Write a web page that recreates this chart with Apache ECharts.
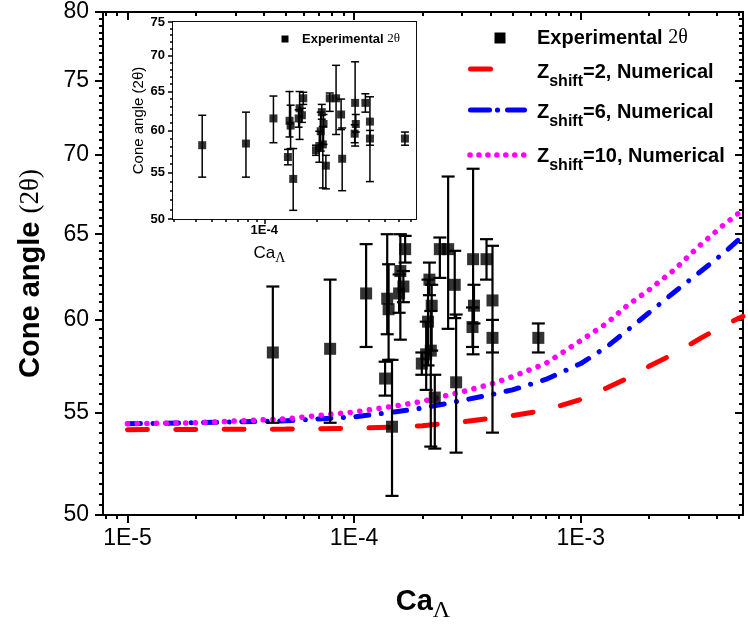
<!DOCTYPE html>
<html><head><meta charset="utf-8">
<script src="https://cdn.jsdelivr.net/npm/echarts@6/dist/echarts.min.js"></script>
<style>html,body{margin:0;padding:0;background:#fff}#c{width:748px;height:628px}</style>
</head><body><div id="c"></div>
<script>
// ---- Experimental data (Ca_Lambda, cone angle, error low, error high) ----
const expCa    = [4.38e-5, 7.84e-5, 1.13e-4, 1.37e-4, 1.40e-4, 1.42e-4, 1.47e-4, 1.58e-4, 1.60e-4, 1.65e-4, 1.68e-4, 1.99e-4, 2.08e-4, 2.12e-4, 2.15e-4, 2.20e-4, 2.18e-4, 2.27e-4, 2.39e-4, 2.60e-4, 2.78e-4, 2.82e-4, 3.35e-4, 3.38e-4, 3.33e-4, 3.84e-4, 4.08e-4, 4.08e-4, 6.50e-4];
const expAngle = [58.2, 58.4, 61.5, 56.8, 61.2, 60.6, 54.3, 61.5, 62.8, 61.9, 64.1, 57.6, 58.1, 59.9, 62.3, 60.8, 58.3, 55.8, 64.1, 64.1, 62.0, 56.6, 63.5, 60.8, 59.6, 63.5, 61.1, 59.0, 59.0];
const expLow   = [54.5, 54.5, 58.5, 55.9, 59.2, 57.8, 50.9, 60.4, 58.9, 61.0, 63.3, 57.0, 56.2, 57.5, 61.4, 58.3, 53.3, 53.2, 62.4, 59.5, 60.1, 53.0, 58.1, 59.8, 58.5, 62.3, 58.2, 54.0, 58.2];
const expHigh  = [61.9, 62.3, 64.4, 57.7, 65.0, 63.2, 57.8, 62.6, 65.0, 62.8, 64.9, 58.2, 59.9, 62.3, 63.3, 62.0, 60.5, 57.0, 64.8, 68.6, 64.0, 60.3, 69.1, 62.0, 60.7, 64.7, 64.3, 60.0, 59.8];

// ---- Numerical curves ----
const curveCa  = [1e-5, 2e-5, 5e-5, 1e-4, 1.5e-4, 2e-4, 3e-4, 4e-4, 5e-4, 7e-4, 1e-3, 1.3e-3, 1.6e-3, 2e-3, 2.6e-3, 3.4e-3, 4.3e-3, 5.2e-3];
const zshift2  = [54.15, 54.16, 54.18, 54.22, 54.28, 54.35, 54.55, 54.72, 54.87, 55.15, 55.7, 56.3, 56.8, 57.45, 58.15, 59.0, 59.7, 60.2];
const zshift6  = [54.45, 54.5, 54.6, 54.8, 55.05, 55.25, 55.65, 55.95, 56.2, 56.75, 57.6, 58.5, 59.4, 60.4, 61.6, 62.8, 63.9, 64.9];
const zshift10 = [54.45, 54.5, 54.7, 55.05, 55.35, 55.6, 56.1, 56.5, 56.9, 57.6, 58.85, 59.8, 60.8, 61.7, 62.9, 64.4, 65.6, 66.5];

// ---- Tick values ----
const xMajorTicks = [1e-5, 1e-4, 1e-3];
const xMinorTicks = [8e-6, 9e-6, 2e-5, 3e-5, 4e-5, 5e-5, 6e-5, 7e-5, 8e-5, 9e-5, 2e-4, 3e-4, 4e-4, 5e-4, 6e-4, 7e-4, 8e-4, 9e-4, 2e-3, 3e-3, 4e-3, 5e-3];
const yMajorTicks = [50, 55, 60, 65, 70, 75, 80];
const yMinorTicks = [50.5,51,51.5,52,52.5,53,53.5,54,54.5,55.5,56,56.5,57,57.5,58,58.5,59,59.5,60.5,61,61.5,62,62.5,63,63.5,64,64.5,65.5,66,66.5,67,67.5,68,68.5,69,69.5,70.5,71,71.5,72,72.5,73,73.5,74,74.5,75.5,76,76.5,77,77.5,78,78.5,79,79.5];
const insetXMajorTicks = [1e-4];
const insetXMinorTicks = [3e-5, 4e-5, 5e-5, 6e-5, 7e-5, 8e-5, 9e-5, 2e-4, 3e-4, 4e-4, 5e-4, 6e-4, 7e-4];
const insetYMajorTicks = [50, 55, 60, 65, 70, 75];
const insetYMinorTicks = [51,52,53,54,56,57,58,59,61,62,63,64,66,67,68,69,71,72,73,74];

const SANS = '"Liberation Sans", Arial, sans-serif';
const SERIF = '"Liberation Serif", "Times New Roman", serif';

const xFmt = v => '1E' + Math.round(Math.log10(v));
const yFmt = v => String(Math.round(v));

function ax(o) {
  return {
    type: 'log', logBase: 10, gridIndex: o.grid, position: o.pos, min: o.min, max: o.max,
    axisLine: {show: true, onZero: false, lineStyle: {color: '#000', width: o.lw}},
    axisTick: {show: true, inside: !!o.inside, length: o.len, customValues: o.ticks, lineStyle: {color: '#000', width: o.lw}},
    axisLabel: o.labels ? Object.assign({show: true, customValues: o.labels, color: '#000', fontFamily: SANS}, o.labelStyle) : {show: false},
    splitLine: {show: false}, minorTick: {show: false}, minorSplitLine: {show: false},
    name: o.name || '', nameLocation: 'middle', nameGap: o.nameGap || 0, nameRotate: o.nameRotate,
    nameTextStyle: o.nameStyle || {}, silent: true
  };
}

const MX = [7.8e-6, 5.2e-3], MY = [50, 80];
const IX = [2.97e-5, 7.53e-4], IY = [50, 75];

const xAxes = [
  ax({grid:0, pos:'bottom', min:MX[0], max:MX[1], ticks:xMajorTicks, len:8, lw:2, labels:xMajorTicks,
      labelStyle:{fontSize:23, margin:12, formatter:xFmt},
      name:'{b|Ca}{s|Λ}', nameGap:66,
      nameStyle:{rich:{b:{fontSize:29, fontWeight:'bold', fontFamily:SANS, color:'#000'},
                       s:{fontSize:24, fontFamily:SERIF, color:'#000', padding:[18,0,0,0]}}}}),
  ax({grid:0, pos:'bottom', min:MX[0], max:MX[1], ticks:xMinorTicks, len:4, lw:2}),
  ax({grid:0, pos:'top', min:MX[0], max:MX[1], ticks:xMajorTicks, len:8, lw:2, inside:true}),
  ax({grid:0, pos:'top', min:MX[0], max:MX[1], ticks:xMinorTicks, len:4, lw:2, inside:true}),
  ax({grid:1, pos:'bottom', min:IX[0], max:IX[1], ticks:insetXMajorTicks, len:5, lw:1.5, labels:insetXMajorTicks,
      labelStyle:{fontSize:13, fontWeight:'bold', margin:5, formatter:xFmt},
      name:'{r|Ca}{s|Λ}', nameGap:22,
      nameStyle:{padding:[0, 50, 0, 0], rich:{r:{fontSize:17, fontFamily:SANS, color:'#000'},
                       s:{fontSize:14, fontFamily:SERIF, color:'#000', padding:[10,0,0,0]}}}}),
  ax({grid:1, pos:'bottom', min:IX[0], max:IX[1], ticks:insetXMinorTicks, len:3, lw:1.5}),
  ax({grid:1, pos:'top', min:IX[0], max:IX[1], ticks:insetXMajorTicks, len:5, lw:1.5, inside:true}),
  ax({grid:1, pos:'top', min:IX[0], max:IX[1], ticks:insetXMinorTicks, len:3, lw:1.5, inside:true})
];
const yAxes = [
  ax({grid:0, pos:'left', min:MY[0], max:MY[1], ticks:yMajorTicks, len:8, lw:2, labels:yMajorTicks,
      labelStyle:{fontSize:23, margin:14, formatter:yFmt},
      name:'{b|Cone angle }{r|(2θ)}', nameGap:58, nameRotate:90,
      nameStyle:{padding:[0, 20, 0, 0], rich:{b:{fontSize:29, fontWeight:'bold', fontFamily:SANS, color:'#000'},
                       r:{fontSize:27, fontFamily:SERIF, color:'#000'}}}}),
  ax({grid:0, pos:'left', min:MY[0], max:MY[1], ticks:yMinorTicks, len:4, lw:2}),
  ax({grid:0, pos:'right', min:MY[0], max:MY[1], ticks:yMajorTicks, len:8, lw:2, inside:true}),
  ax({grid:0, pos:'right', min:MY[0], max:MY[1], ticks:yMinorTicks, len:4, lw:2, inside:true}),
  ax({grid:1, pos:'left', min:IY[0], max:IY[1], ticks:insetYMajorTicks, len:5, lw:1.5, labels:insetYMajorTicks,
      labelStyle:{fontSize:13, fontWeight:'bold', margin:8, formatter:yFmt},
      name:'Cone angle (2θ)', nameGap:26, nameRotate:90,
      nameStyle:{fontSize:15, fontFamily:SANS, color:'#000'}}),
  ax({grid:1, pos:'left', min:IY[0], max:IY[1], ticks:insetYMinorTicks, len:3, lw:1.5}),
  ax({grid:1, pos:'right', min:IY[0], max:IY[1], ticks:insetYMajorTicks, len:5, lw:1.5, inside:true}),
  ax({grid:1, pos:'right', min:IY[0], max:IY[1], ticks:insetYMinorTicks, len:3, lw:1.5, inside:true})
];

function errRender(capW, lw) {
  return function (params, api) {
    const x = api.value(0), lo = api.value(1), hi = api.value(2);
    const p1 = api.coord([x, lo]), p2 = api.coord([x, hi]);
    const st = {stroke: '#000', lineWidth: lw, fill: null};
    return {type: 'group', children: [
      {type: 'line', shape: {x1: p1[0], y1: p1[1], x2: p2[0], y2: p2[1]}, style: st},
      {type: 'line', shape: {x1: p1[0] - capW / 2, y1: p1[1], x2: p1[0] + capW / 2, y2: p1[1]}, style: st},
      {type: 'line', shape: {x1: p2[0] - capW / 2, y1: p2[1], x2: p2[0] + capW / 2, y2: p2[1]}, style: st}
    ]};
  };
}

const errData = expCa.map((c, i) => [c, expLow[i], expHigh[i]]);
const ptData = expCa.map((c, i) => [c, expAngle[i]]);
const curve = arr => curveCa.map((c, i) => [c, arr[i]]);

const richLegend = (fs, sfs, shift) => ({
  b: {fontSize: fs, fontWeight: 'bold', fontFamily: SANS, fill: '#000'},
  s: {fontSize: sfs, fontWeight: 'bold', fontFamily: SANS, fill: '#000', padding: [shift, 0, 0, 0]},
  g: {fontSize: fs, fontFamily: SERIF, fill: '#000'}
});

const option = {
  animation: false,
  backgroundColor: '#fff',
  grid: [
    {left: 103, top: 12, width: 640, height: 510, containLabel: false},
    {left: 173, top: 22, width: 243, height: 197, show: true, backgroundColor: '#fff', borderWidth: 0, z: 5}
  ],
  xAxis: xAxes,
  yAxis: yAxes,
  series: [
    {type: 'line', name: 'Zshift=2', xAxisIndex: 0, yAxisIndex: 0, data: curve(zshift2), symbol: 'none', z: 2,
     lineStyle: {color: '#ff0000', width: 5, type: [20, 28.3], cap: 'round'}},
    {type: 'line', name: 'Zshift=6', xAxisIndex: 0, yAxisIndex: 0, data: curve(zshift6), symbol: 'none', z: 2,
     lineStyle: {color: '#0000ff', width: 5, type: [13, 12.5, 0.1, 12.5], cap: 'round'}},
    {type: 'line', name: 'Zshift=10', xAxisIndex: 0, yAxisIndex: 0, data: curve(zshift10), symbol: 'none', z: 2,
     lineStyle: {color: '#ff00ff', width: 5.5, type: [0.1, 9.6], cap: 'round'}},
    {type: 'custom', name: 'err', xAxisIndex: 0, yAxisIndex: 0, data: errData, renderItem: errRender(13, 2.2), z: 3, silent: true},
    {type: 'scatter', name: 'Experimental', xAxisIndex: 0, yAxisIndex: 0, data: ptData, symbol: 'rect', symbolSize: 12,
     itemStyle: {color: '#000'}, z: 4},
    {type: 'custom', name: 'errInset', xAxisIndex: 4, yAxisIndex: 4, data: errData, renderItem: errRender(8, 1.5), z: 6, silent: true},
    {type: 'scatter', name: 'ExperimentalInset', xAxisIndex: 4, yAxisIndex: 4, data: ptData, symbol: 'rect', symbolSize: 8,
     itemStyle: {color: '#000'}, z: 7}
  ],
  graphic: [
    // main legend
    {type: 'rect', z: 100, shape: {x: 494.5, y: 32.5, width: 11, height: 11}, style: {fill: '#000'}},
    {type: 'text', z: 100, x: 537, y: 38, style: {text: '{b|Experimental }{g|2θ}', rich: richLegend(20, 16, 20), verticalAlign: 'middle'}},
    {type: 'line', z: 100, shape: {x1: 470.5, y1: 69, x2: 490.5, y2: 69}, style: {stroke: '#ff0000', lineWidth: 5, lineCap: 'round'}},
    {type: 'text', z: 100, x: 537, y: 72, style: {text: '{b|Z}{s|shift}{b|=2, Numerical}', rich: richLegend(20, 16, 20), verticalAlign: 'middle'}},
    {type: 'line', z: 100, shape: {x1: 470.5, y1: 110, x2: 489.5, y2: 110}, style: {stroke: '#0000ff', lineWidth: 5, lineCap: 'round'}},
    {type: 'circle', z: 100, shape: {cx: 497.5, cy: 110, r: 2.6}, style: {fill: '#0000ff'}},
    {type: 'line', z: 100, shape: {x1: 507.5, y1: 110, x2: 524.5, y2: 110}, style: {stroke: '#0000ff', lineWidth: 5, lineCap: 'round'}},
    {type: 'text', z: 100, x: 537, y: 112, style: {text: '{b|Z}{s|shift}{b|=6, Numerical}', rich: richLegend(20, 16, 20), verticalAlign: 'middle'}},
    {type: 'line', z: 100, shape: {x1: 470, y1: 155, x2: 532, y2: 155}, style: {stroke: '#ff00ff', lineWidth: 5.5, lineCap: 'round', lineDash: [0.1, 8.85]}},
    {type: 'text', z: 100, x: 537, y: 156, style: {text: '{b|Z}{s|shift}{b|=10, Numerical}', rich: richLegend(20, 16, 20), verticalAlign: 'middle'}},
    // inset legend
    {type: 'rect', z: 100, shape: {x: 281.5, y: 35.5, width: 7, height: 7}, style: {fill: '#000'}},
    {type: 'text', z: 100, x: 302, y: 39, style: {text: '{b|Experimental }{g|2θ}', rich: richLegend(13, 11, 10), verticalAlign: 'middle'}}
  ]
};

const chart = echarts.init(document.getElementById('c'), null, {renderer: 'canvas'});
chart.setOption(option);
</script>
</body></html>
